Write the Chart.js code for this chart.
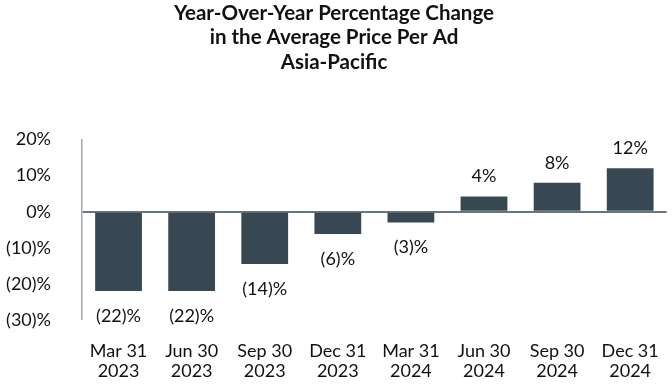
<!DOCTYPE html>
<html lang="en">
<head>
    <meta charset="UTF-8">
    <title>Year-Over-Year Percentage Change - Asia-Pacific</title>
    <script src="https://cdn.jsdelivr.net/npm/chart.js"></script>
    <style>
        html, body { margin: 0; padding: 0; background: #fff; }
        #wrap { width: 672px; height: 384px; }
    </style>
</head>
<body>
    <div id="wrap"><canvas id="chart"></canvas></div>

    <script>
        // données
        const quarters = [
            ['Mar 31', '2023'], ['Jun 30', '2023'], ['Sep 30', '2023'], ['Dec 31', '2023'],
            ['Mar 31', '2024'], ['Jun 30', '2024'], ['Sep 30', '2024'], ['Dec 31', '2024']
        ];
        const changes = [-22, -22, -14.5, -6.2, -3, 4.2, 8, 12];
        const changeLabels = ['(22)%', '(22)%', '(14)%', '(6)%', '(3)%', '4%', '8%', '12%'];
        const yTicks = [20, 10, 0, -10, -20, -30];
        const titleLines = ['Year-Over-Year Percentage Change', 'in the Average Price Per Ad', 'Asia-Pacific'];

        const FONT = 'Lato, "Open Sans", sans-serif';

        function pct(v) {
            return v < 0 ? '(' + Math.abs(v) + ')%' : v + '%';
        }

        // étiquettes au-dessus / en dessous des barres
        const barLabels = {
            id: 'barLabels',
            afterDatasetsDraw(chart) {
                const ctx = chart.ctx;
                const meta = chart.getDatasetMeta(0);
                ctx.save();
                ctx.font = '18px ' + FONT;
                ctx.fillStyle = '#111';
                ctx.textAlign = 'center';
                ctx.textBaseline = 'middle';
                meta.data.forEach((bar, i) => {
                    const v = changes[i];
                    const y = v < 0 ? bar.y + 25 : bar.y - 20;
                    ctx.fillText(changeLabels[i], bar.x, y);
                });
                ctx.restore();
            }
        };

        const ctx = document.getElementById('chart').getContext('2d');
        const chart = new Chart(ctx, {
            type: 'bar',
            data: {
                labels: quarters,
                datasets: [{
                    data: changes,
                    backgroundColor: '#374852',
                    borderWidth: 0,
                    categoryPercentage: 1,
                    barPercentage: 0.64
                }]
            },
            plugins: [barLabels],
            options: {
                responsive: true,
                maintainAspectRatio: false,
                animation: false,
                layout: { padding: { top: 0, right: 4, bottom: 0, left: 0 } },
                plugins: {
                    legend: { display: false },
                    tooltip: { enabled: false },
                    title: {
                        display: true,
                        text: titleLines,
                        color: '#111',
                        font: { family: FONT, size: 20.5, weight: 'bold', lineHeight: 1.195 },
                        padding: { top: 1, bottom: 65 }
                    }
                },
                scales: {
                    x: {
                        grid: { display: false },
                        border: { display: false },
                        ticks: {
                            color: '#111',
                            font: { family: FONT, size: 18, lineHeight: 1.11 },
                            padding: 13,
                            maxRotation: 0,
                            autoSkip: false
                        },
                        afterFit(scale) { scale.height = 64; }
                    },
                    y: {
                        min: -30,
                        max: 20,
                        afterBuildTicks(scale) {
                            scale.ticks = yTicks.map(v => ({ value: v }));
                        },
                        afterFit(scale) { scale.width = 82; },
                        grid: {
                            drawTicks: false,
                            color: c => c.tick && c.tick.value === 0 ? '#66767f' : 'rgba(0,0,0,0)',
                            lineWidth: c => c.tick && c.tick.value === 0 ? 2 : 0
                        },
                        border: { display: true, color: '#a6a6a6', width: 1.5 },
                        ticks: {
                            color: '#111',
                            font: { family: FONT, size: 18 },
                            padding: 31,
                            callback: v => pct(v)
                        }
                    }
                }
            }
        });
    </script>
</body>
</html>
